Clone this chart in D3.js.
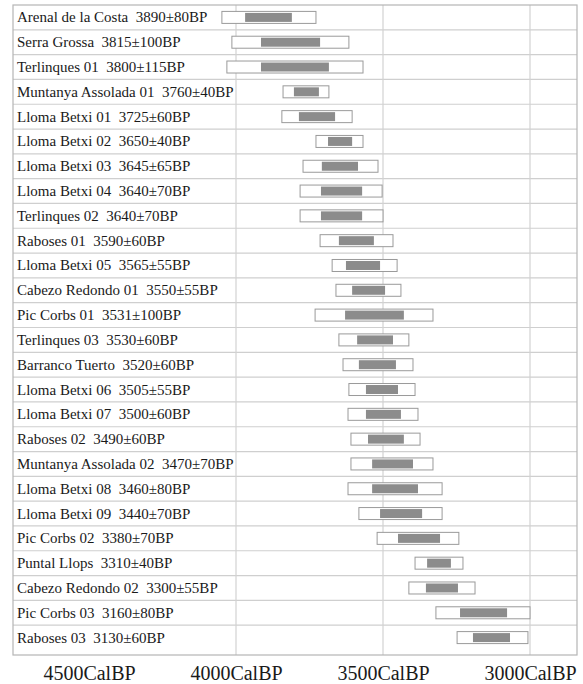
<!DOCTYPE html>
<html>
<head>
<meta charset="utf-8">
<script src="https://cdn.jsdelivr.net/npm/d3@7"></script>
<style>
  body { margin: 0; background: #fff; }
  text { font-family: "Liberation Serif", "Times New Roman", serif; fill: #1a1a1a; }
</style>
</head>
<body>
<div class="canvas"></div>
<script>
// sites and radiocarbon dates (uncalibrated, as printed)
const sites = [
  'Arenal de la Costa', 'Serra Grossa', 'Terlinques 01', 'Muntanya Assolada 01',
  'Lloma Betxi 01', 'Lloma Betxi 02', 'Lloma Betxi 03', 'Lloma Betxi 04',
  'Terlinques 02', 'Raboses 01', 'Lloma Betxi 05', 'Cabezo Redondo 01',
  'Pic Corbs 01', 'Terlinques 03', 'Barranco Tuerto', 'Lloma Betxi 06',
  'Lloma Betxi 07', 'Raboses 02', 'Muntanya Assolada 02', 'Lloma Betxi 08',
  'Lloma Betxi 09', 'Pic Corbs 02', 'Puntal Llops', 'Cabezo Redondo 02',
  'Pic Corbs 03', 'Raboses 03'
];
const dates = [
  '3890±80BP', '3815±100BP', '3800±115BP', '3760±40BP',
  '3725±60BP', '3650±40BP', '3645±65BP', '3640±70BP',
  '3640±70BP', '3590±60BP', '3565±55BP', '3550±55BP',
  '3531±100BP', '3530±60BP', '3520±60BP', '3505±55BP',
  '3500±60BP', '3490±60BP', '3470±70BP', '3460±80BP',
  '3440±70BP', '3380±70BP', '3310±40BP', '3300±55BP',
  '3160±80BP', '3130±60BP'
];

// calibrated ranges (CalBP)
const outerFrom = [4048, 4014, 4031, 3840, 3844, 3728, 3772, 3782, 3782, 3714, 3673, 3660, 3731,
                   3650, 3636, 3616, 3619, 3609, 3609, 3619, 3582, 3520, 3391, 3412, 3320, 3248];
const outerTo   = [3728, 3616, 3568, 3684, 3605, 3568, 3517, 3503, 3500, 3466, 3452, 3439, 3330,
                   3412, 3398, 3391, 3381, 3374, 3330, 3299, 3299, 3242, 3228, 3187, 3000, 3007];
const innerFrom = [3969, 3915, 3915, 3803, 3786, 3687, 3708, 3711, 3711, 3650, 3626, 3605, 3629,
                   3588, 3582, 3558, 3558, 3551, 3537, 3537, 3510, 3449, 3350, 3354, 3238, 3194];
const innerTo   = [3810, 3714, 3684, 3718, 3663, 3605, 3585, 3571, 3571, 3531, 3510, 3493, 3429,
                   3466, 3456, 3449, 3439, 3429, 3398, 3381, 3367, 3306, 3269, 3245, 3078, 3068];

const tickValues = [4500, 4000, 3500, 3000];
const gridValues = [4000, 3500, 3000];

const width = 583;
const height = 684;
const frame = { left: 13, right: 577, top: 5, bottom: 655 };

const svg = d3.select('.canvas')
    .append('svg')
    .attr('width', width)
    .attr('height', height);

const data = sites.map((s, i) => ({
  site: s, date: dates[i],
  o0: outerFrom[i], o1: outerTo[i], i0: innerFrom[i], i1: innerTo[i]
}));

// x runs backwards in time: older on the left
const x = d3.scaleLinear()
    .domain([4000, 3000])
    .range([236, 530]);

const y = d3.scaleBand()
    .domain(sites)
    .range([frame.top, 650]);

// row separators
svg.append('g')
  .selectAll('line')
  .data(sites.slice(1))
  .enter()
  .append('line')
    .attr('x1', frame.left)
    .attr('x2', frame.right)
    .attr('y1', d => y(d))
    .attr('y2', d => y(d))
    .attr('stroke', '#cfcfcf')
    .attr('stroke-width', 1.2);

// vertical grid
svg.append('g')
  .selectAll('line')
  .data(gridValues)
  .enter()
  .append('line')
    .attr('x1', d => x(d))
    .attr('x2', d => x(d))
    .attr('y1', frame.top)
    .attr('y2', frame.bottom)
    .attr('stroke', '#d2d2d2')
    .attr('stroke-width', 1.2);

// frame
svg.append('rect')
    .attr('x', frame.left)
    .attr('y', frame.top)
    .attr('width', frame.right - frame.left)
    .attr('height', frame.bottom - frame.top)
    .attr('fill', 'none')
    .attr('stroke', '#b5b5b5')
    .attr('stroke-width', 1.2);

const rows = svg.append('g')
  .selectAll('g')
  .data(data)
  .enter()
  .append('g')
    .attr('transform', d => `translate(0, ${y(d.site) + y.bandwidth() / 2})`);

// 2 sigma box
rows.append('rect')
    .attr('x', d => x(d.o0))
    .attr('width', d => x(d.o1) - x(d.o0))
    .attr('y', -6)
    .attr('height', 12)
    .attr('fill', '#fff')
    .attr('stroke', '#9a9a9a')
    .attr('stroke-width', 1);

// 1 sigma bar
rows.append('rect')
    .attr('x', d => x(d.i0))
    .attr('width', d => x(d.i1) - x(d.i0))
    .attr('y', -4.5)
    .attr('height', 9)
    .attr('fill', '#8c8c8c');

rows.append('text')
    .attr('x', 17)
    .attr('y', 5)
    .attr('font-size', 15)
    .attr('xml:space', 'preserve')
    .text(d => `${d.site}  ${d.date}`);

// bottom axis labels
const xAxis = d3.axisBottom(x)
    .tickValues(tickValues)
    .tickSize(0)
    .tickFormat(d => d + 'CalBP');

const xAxisGroup = svg.append('g')
    .attr('transform', `translate(0, ${frame.bottom})`)
    .call(xAxis);

xAxisGroup.select('.domain').remove();
xAxisGroup.selectAll('text')
    .attr('dy', 0)
    .attr('y', 25)
    .attr('font-size', 20)
    .attr('font-family', '"Liberation Serif", serif')
    .attr('fill', '#1a1a1a');
</script>
</body>
</html>
